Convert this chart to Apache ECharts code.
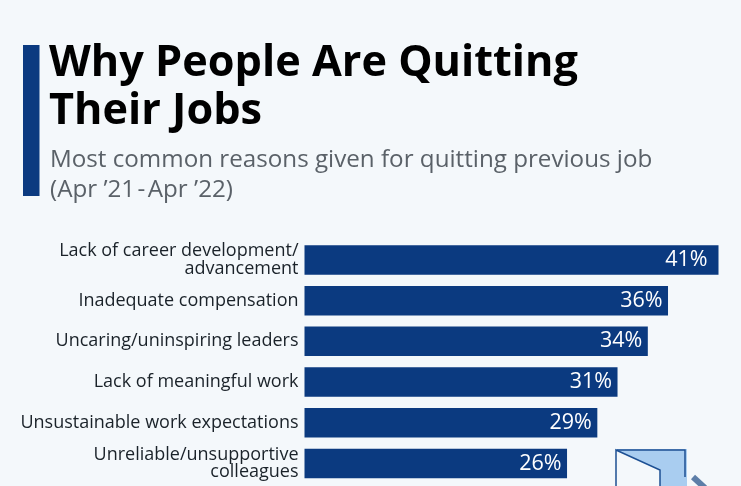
<!DOCTYPE html>
<html>
<head>
<meta charset="utf-8">
<style>html,body{margin:0;padding:0;background:#f4f8fb}#c{width:741px;height:486px}</style>
<script src="https://cdn.jsdelivr.net/npm/echarts@6/dist/echarts.min.js"></script>
</head>
<body>
<div id="c"></div>
<script>
const chartTitle = "Why People Are Quitting\nTheir Jobs";
const chartSubtitle = "Most common reasons given for quitting previous job\n(Apr ’21\u200a-\u200aApr ’22)";
const categories = [
  "Lack of career development/\nadvancement",
  "Inadequate compensation",
  "Uncaring/uninspiring leaders",
  "Lack of meaningful work",
  "Unsustainable work expectations",
  "Unreliable/unsupportive\ncolleagues"
];
const values = [41, 36, 34, 31, 29, 26];

const chart = echarts.init(document.getElementById('c'), null, {renderer: 'canvas'});
const font = '"Open Sans"';
chart.setOption({
  animation: false,
  backgroundColor: '#f4f8fb',
  title: [
    {text: chartTitle, left: 49, top: 40, padding: 0,
     textStyle: {fontFamily: font, fontSize: 43.25, fontWeight: 700, color: '#000', lineHeight: 48}},
    {text: chartSubtitle, left: 50, top: 145, padding: 0,
     textStyle: {fontFamily: font, fontSize: 24.2, fontWeight: 400, color: '#5a6168', lineHeight: 30}}
  ],
  grid: {left: 304.5, top: 239.6, width: 414, height: 244.2, containLabel: false},
  xAxis: {type: 'value', min: 0, max: 41, show: false},
  yAxis: {
    type: 'category', inverse: true, data: categories,
    axisLine: {show: false}, axisTick: {show: false},
    axisLabel: {margin: 6, align: 'right', fontFamily: font, fontSize: 18, color: '#1a2229', lineHeight: 17.5, interval: 0, padding: [2, 0, 0, 0]}
  },
  series: [{
    type: 'bar',
    data: values.map((v, i) => i === 0 ? {value: v, label: {distance: 11}} : v),
    barWidth: 29.5, silent: true,
    itemStyle: {color: '#0b3a80'},
    label: {show: true, position: 'insideRight', distance: 5.5, formatter: '{c}%',
            fontFamily: font, fontSize: 21.5, color: '#ffffff', padding: [3, 0, 0, 0]}
  }],
  graphic: [
    {type: 'rect', shape: {x: 23, y: 45, width: 16.5, height: 151}, style: {fill: '#0b3a80'}},
    {type: 'rect', shape: {x: 616, y: 449, width: 71, height: 40}, style: {fill: '#a9cdf0'}, z: 1},
    {type: 'polygon', shape: {points: [[616, 450], [660, 470], [660, 490], [616, 490]]},
     style: {fill: '#f4f8fb', stroke: '#1c4f93', lineWidth: 1.5}, z: 2},
    {type: 'polyline', shape: {points: [[617, 450], [685, 450], [685, 477]]},
     style: {fill: 'none', stroke: '#1c4f93', lineWidth: 1.5}, z: 2},
    {type: 'line', shape: {x1: 693, y1: 477, x2: 705, y2: 488},
     style: {stroke: '#5d7ea8', lineWidth: 6}, z: 2}
  ]
});
</script>
</body>
</html>
